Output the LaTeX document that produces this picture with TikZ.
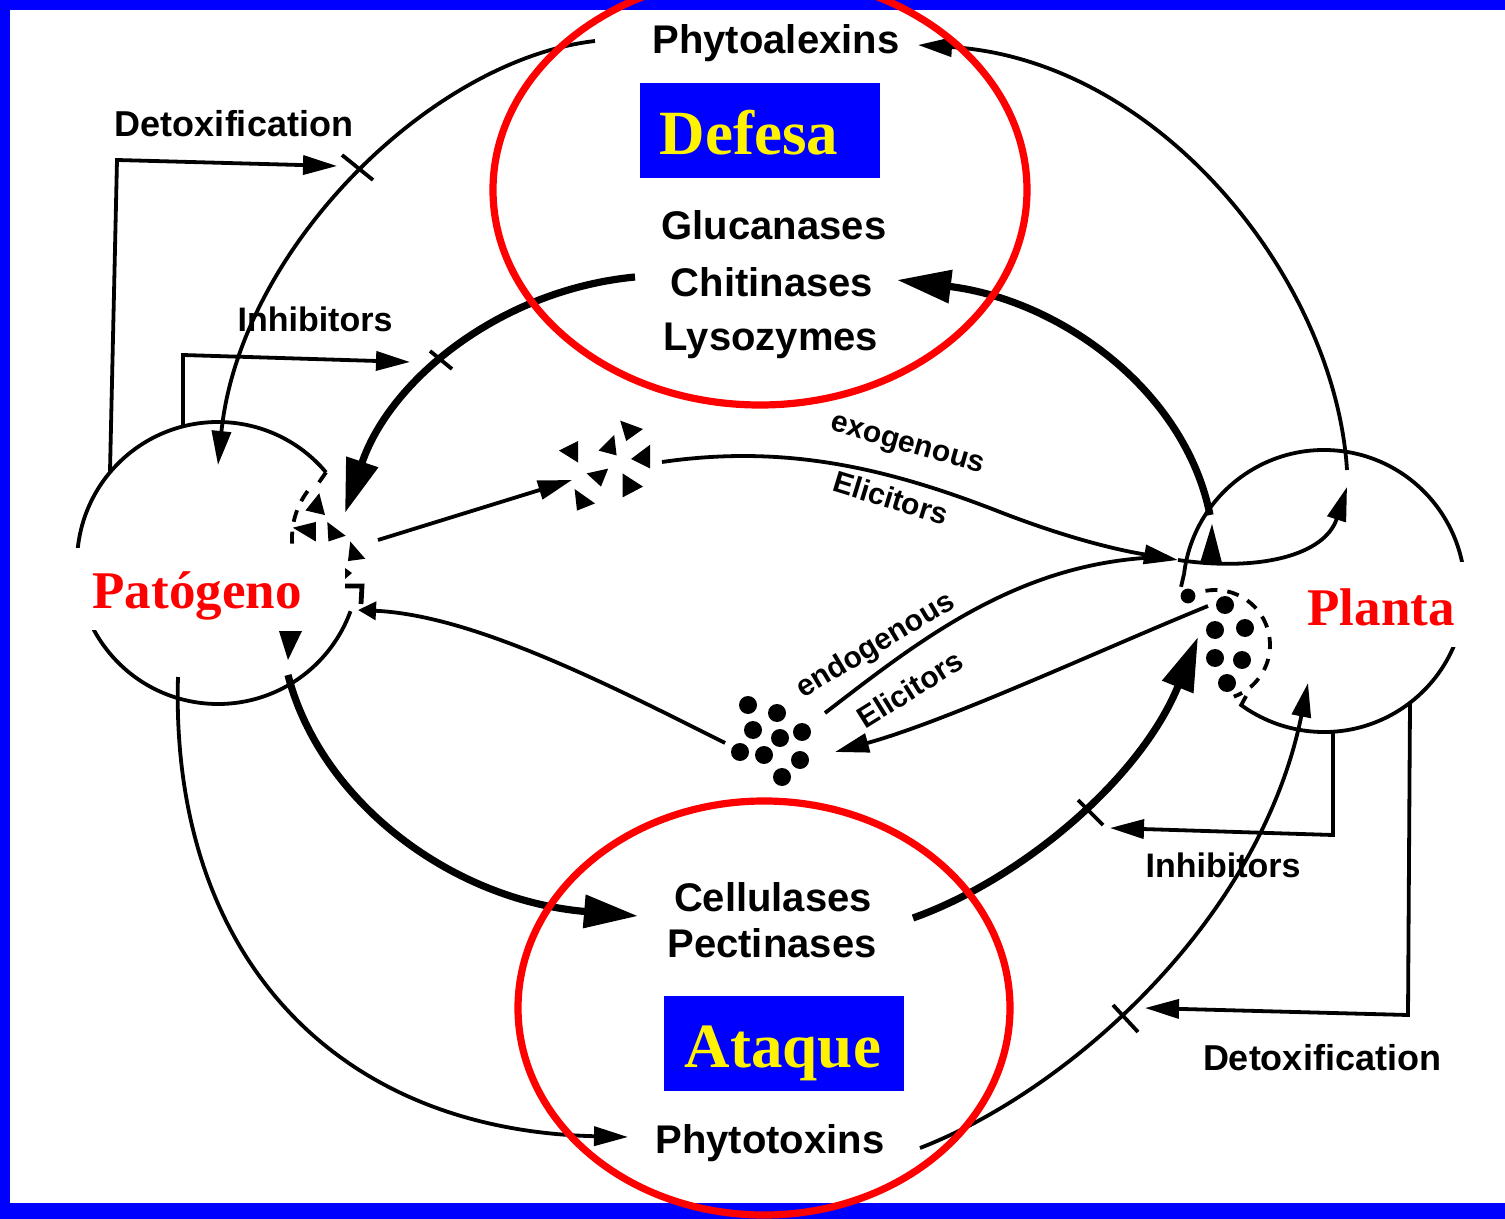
\documentclass[tikz,border=0pt]{standalone}
\usepackage{fontspec}
\setmainfont{Liberation Serif}
\newfontfamily\sansfam{Liberation Sans}
\usetikzlibrary{arrows.meta}
\begin{document}
\begin{tikzpicture}[x=0.5pt,y=-0.5pt,
  wire/.style={line width=1.9pt},
  heavy/.style={line width=3.6pt},
  tipS/.style={-{Triangle[length=17pt,width=9.5pt]}},
  tipL/.style={-{Triangle[length=27pt,width=16pt]}},
  ring/.style={draw=red,line width=3.6pt},
  tag/.style={fill=blue,inner sep=0pt,minimum width=120pt,minimum height=47.5pt},
  bigtxt/.style={text=yellow,font=\bfseries\fontsize{31.5}{34}\selectfont,inner sep=0pt,anchor=base},
  orgtxt/.style={text=red,font=\bfseries\fontsize{26.5}{30}\selectfont,inner sep=0pt,anchor=base},
  lab/.style={font=\sansfam\bfseries\fontsize{20}{22}\selectfont,inner sep=0pt,anchor=base},
  sidelab/.style={font=\sansfam\bfseries\fontsize{18}{20}\selectfont,inner sep=0pt,anchor=base},
  eltxt/.style={font=\sansfam\bfseries\fontsize{15}{17}\selectfont,inner sep=0pt},
  dashring/.style={line width=1.9pt,dash pattern=on 6pt off 5pt}
]
\useasboundingbox (0,0) rectangle (1505,1219);
\fill[blue] (0,0) rectangle (1505,1219);
\fill[white] (10,10) rectangle (1505,1203);
\clip (0,0) rectangle (1505,1219);

% ---------- organisms ----------
\coordinate (P) at (218,563);
\coordinate (Q) at (1324,591);
\draw[wire] (P) ++(40:70.5pt) arc[start angle=40,end angle=340,radius=70.5pt];
\draw[wire] (P) ++(40:70.5pt) -- ++(-7,10);
\draw[dashring] (370,538) ++(143:39pt) arc[start angle=143,end angle=186,radius=39pt];
\draw[wire] (Q) ++(173:70.5pt) arc[start angle=173,end angle=-126,radius=70.5pt] -- ++(5,-9);
\draw[wire] (Q) ++(173:70.5pt) -- ++(-3,13);
\draw[dashring] (1215,645) ++(100:27.5pt) arc[start angle=100,end angle=-70,radius=27.5pt];

% pathogen elicitors (triangles)
\begin{scope}[scale around={1.15:(325,530)}]
\fill (320,498) -- (325,517) -- (308,513) -- cycle;
\fill (317,523) -- (317,540) -- (297,528) -- cycle;
\fill (327,523) -- (343,535) -- (328,540) -- cycle;
\fill (347,540) -- (360,555) -- (345,557) -- cycle;
\end{scope}
\fill (345,568) -- (352,573) -- (345,579) -- cycle;
\draw[line width=2.4pt] (345,586) -- (362,586) -- (361,604);
\fill (279,631) -- (302,631) -- (288,660) -- cycle;

% plant dots
\foreach \px/\py in {1225/605,1215/630,1245/628,1215/658,1242/660,1227/683}
  \fill (\px,\py) circle[radius=4.5pt];
\fill (1188,596) circle[radius=3.7pt];
\fill (1200,563) -- (1222,563) -- (1212,524) -- cycle;

% exogenous elicitors
\begin{scope}[scale around={1.2:(607,465)}]
\fill (567,453) -- (583,445) -- (583,463) -- cycle;
\fill (600,453) -- (613,440) -- (615,457) -- cycle;
\fill (618,428) -- (637,435) -- (623,445) -- cycle;
\fill (643,448) -- (643,468) -- (627,460) -- cycle;
\fill (590,472) -- (608,468) -- (602,483) -- cycle;
\fill (620,472) -- (637,483) -- (620,492) -- cycle;
\fill (582,503) -- (580,485) -- (597,497) -- cycle;
\end{scope}

% endogenous elicitors
\foreach \px/\py in {748/705,777/713,753/730,780/738,802/732,740/752,764/755,800/760,782/777}
  \fill (\px,\py) circle[radius=4.5pt];

% ---------- endpoints ----------
\coordinate (phyL) at (595,41);
\coordinate (phyR) at (918,45);
\coordinate (patTop) at (218,465);
\coordinate (plaTop) at (1347,470);
\coordinate (chiR) at (1210,515);
\coordinate (chiTip) at (897,280);
\coordinate (gluL) at (635,277);
\coordinate (patIn) at (345,513);
\coordinate (patBot) at (288,675);
\coordinate (celTip) at (638,916);
\coordinate (celR) at (913,918);
\coordinate (plaIn) at (1198,637);
\coordinate (patBotL) at (178,677);
\coordinate (toxTip) at (628,1137);
\coordinate (toxR) at (920,1148);
\coordinate (plaBot) at (1308,683);
\coordinate (exoS) at (378,540);
\coordinate (exoC) at (572,480);
\coordinate (exoL) at (662,462);
\coordinate (plaL) at (1178,560);
\coordinate (plaR) at (1347,487);
\coordinate (endA) at (825,713);
\coordinate (endAE) at (1165,557);
\coordinate (endB) at (1208,606);
\coordinate (endBT) at (835,752);
\coordinate (endC) at (725,743);
\coordinate (patR) at (358,610);

% ---------- connectors ----------
\draw[wire,tipS] (phyL) .. controls (430,60) and (240,250) .. (patTop);
\draw[wire,tipS] (plaTop) .. controls (1335,280) and (1160,60) .. (phyR);
\draw[heavy,tipL] (chiR) .. controls (1185,390) and (1060,300) .. (chiTip);
\draw[heavy,tipL] (gluL) .. controls (500,290) and (390,380) .. (patIn);
\draw[heavy,tipL] (patBot) .. controls (320,800) and (450,900) .. (celTip);
\draw[heavy,tipL] (celR) .. controls (1020,880) and (1140,780) .. (plaIn);
\draw[wire,tipS] (patBotL) .. controls (170,950) and (330,1130) .. (toxTip);
\draw[wire,tipS] (toxR) .. controls (1070,1090) and (1260,920) .. (plaBot);

\draw[wire,tipS] (exoS) -- (exoC);
\draw[wire,tipS] (exoL) .. controls (780,445) and (880,465) .. (1000,512)
   .. controls (1080,543) and (1130,552) .. (plaL);
\draw[wire,tipS] (plaL) .. controls (1260,572) and (1325,555) .. (plaR);
\draw[wire] (endA) .. controls (920,640) and (1020,560) .. (endAE);
\draw[wire,tipS] (endB) .. controls (1100,650) and (950,720) .. (endBT);
\draw[wire,-{Triangle[length=9pt,width=9pt]}] (endC) .. controls (600,680) and (470,615) .. (patR);

% brackets
\draw[wire,tipS] (110,471) -- (117,160) -- (337,166);
\draw[wire,tipS] (183,426) -- (183,355) -- (410,362);
\draw[wire,tipS] (1333,732) -- (1333,835) -- (1110,828);
\draw[wire,tipS] (1410,703) -- (1408,1015) -- (1145,1008);
% blocking marks
\draw[wire] (342,155) -- (373,180);
\draw[wire] (430,351) -- (452,369);
\draw[wire] (1078,800) -- (1103,825);
\draw[wire] (1113,1005) -- (1138,1032);

% ---------- labels ----------
\node[lab] (phyt) at (776,54) {Phytoalexins};
\node[lab] (gluc) at (774,240) {Glucanases};
\node[lab] (chit) at (772,297) {Chitinases};
\node[lab] (lyso) at (771,351) {Lysozymes};
\node[lab] (cell) at (773,911) {Cellulases};
\node[lab] (pect) at (772,957) {Pectinases};
\node[lab] (toxn) at (770,1153) {Phytotoxins};
\node[sidelab] (detU) at (234,137) {Detoxification};
\node[sidelab] (detD) at (1322,1070) {Detoxification};
\node[sidelab,font=\sansfam\bfseries\fontsize{17}{19}\selectfont] (inhU) at (315,332) {Inhibitors};
\node[sidelab,font=\sansfam\bfseries\fontsize{17}{19}\selectfont] (inhD) at (1223,877) {Inhibitors};
\node[eltxt,rotate=-16] (exo1) at (907,447) {exogenous};
\node[eltxt,rotate=-17] (exo2) at (891,498) {Elicitors};
\node[eltxt,rotate=31] (end1) at (876,646) {endogenous};
\node[eltxt,rotate=32] (end2) at (910,689) {Elicitors};

% ---------- red rings ----------
\draw[ring] (760,190) ellipse[x radius=133.5pt,y radius=107.5pt];
\draw[ring] (764,1008) ellipse[x radius=123pt,y radius=103.5pt];

\node[tag] (defbox) at (760,130.5) {};
\node[bigtxt] (defesa) at (749,155) {Defesa};
\node[tag] (ataqbox) at (784,1043) {};
\node[bigtxt] (ataque) at (783,1067) {Ataque};

\fill[white] (74,548) rectangle (312,630);
\node[orgtxt] (patog) at (197,608) {Patógeno};
\fill[white] (1298,562) rectangle (1475,647);
\node[orgtxt] (planta) at (1381,625) {Planta};
\end{tikzpicture}
\end{document}
